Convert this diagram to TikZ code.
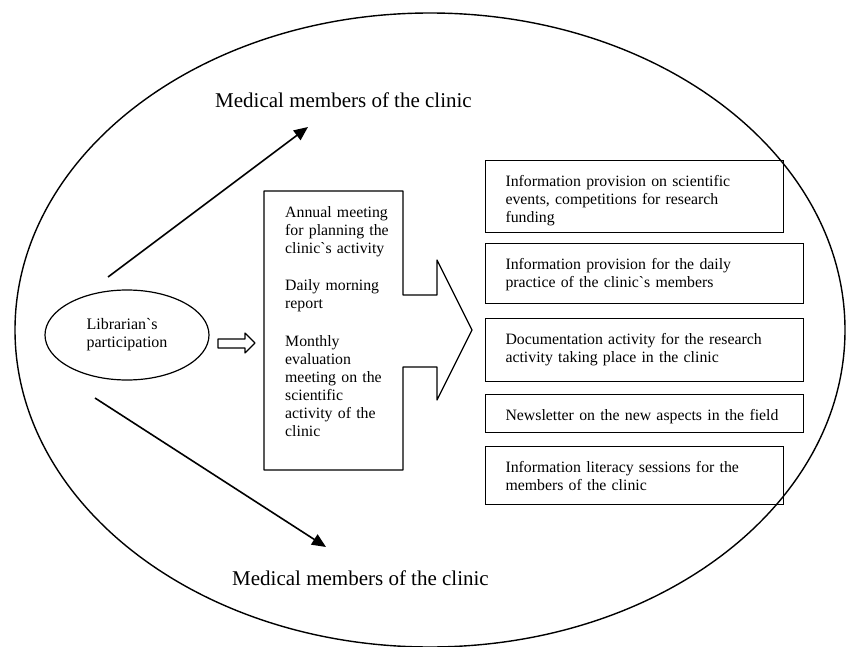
\documentclass[tikz,border=0pt]{standalone}
\usepackage{fontspec}
\setmainfont{Liberation Serif}
\usepackage{tikz}
\usetikzlibrary{shapes.geometric, arrows.meta, positioning}
\usepackage{tkz-euclide}

\tikzset{
  infobox/.style={draw, line width=1.1pt, anchor=north west, align=left,
    inner xsep=20pt, inner ysep=0pt, text height=26pt,
    font=\fontsize{15.8}{18}\selectfont},
  medlabel/.style={anchor=base west, inner sep=0pt, font=\fontsize{21}{24}\selectfont},
  toarrow/.style={line width=1.6pt, -{Triangle[length=14pt,width=12pt]}},
}

\begin{document}
\begin{tikzpicture}[x=1pt, y=-1pt]
\useasboundingbox (0,0) rectangle (848,647);
\node (clinic) [ellipse, draw, line width=1.4pt, minimum width=830pt, minimum height=634pt, inner sep=0pt] at (430,330) {};

\node (lib) [ellipse, draw, line width=1.2pt, minimum width=164pt, minimum height=90pt, align=left,
  font=\fontsize{16}{18}\selectfont] at (127,335) {Librarian\textasciigrave s\\participation};

% block arrow into the meetings box
\tkzDefPoints{218/339/P1, 245/339/P2, 245/333/P3, 255/343/P4, 245/353/P5, 245/348/P6, 218/348/P7}
\tkzDrawPolygon[line width=1.1pt](P1,P2,P3,P4,P5,P6,P7)

% meetings box with its arrow head
\tkzDefPoints{264/191/A, 403/191/B, 403/295/C, 437/295/D, 437/260/E, 472/330/F, 437/400/G, 437/367/H, 403/367/I, 403/470/J, 264/470/K}
\tkzDrawPolygon[line width=1.2pt](A,B,C,D,E,F,G,H,I,J,K)
\node (meet) [anchor=north west, align=left, text width=118pt, inner xsep=21pt, inner ysep=0pt,
  text height=26pt, font=\fontsize{15.8}{18}\selectfont] at (A)
  {Annual meeting\\for planning the\\clinic\textasciigrave s activity\\[19pt]Daily morning\\report\\[20pt]Monthly\\evaluation\\meeting on the\\scientific\\activity of the\\clinic};

\node (evts) [infobox, text width=258pt, text depth=46pt] at (485,160)
  {Information provision on scientific\\events, competitions for research\\funding};
\node (daily) [infobox, text width=278pt, text depth=34pt] at (485,243)
  {Information provision for the daily\\practice of the clinic\textasciigrave s members};
\node (docu) [infobox, text width=278pt, text depth=37pt] at (485,318)
  {Documentation activity for the research\\activity taking place in the clinic};
\node (news) [infobox, text width=278pt, text depth=12pt] at (485,394)
  {Newsletter on the new aspects in the field};
\node (lit) [infobox, text width=258pt, text depth=32pt] at (485,446)
  {Information literacy sessions for the\\members of the clinic};

\node (medtop) [medlabel] at (215,108) {Medical members of the clinic};
\node (medbot) [medlabel] at (232,585) {Medical members of the clinic};

\coordinate (upfrom) at (108,277);
\coordinate (upto) at (308,127);
\coordinate (downfrom) at (95,398);
\coordinate (downto) at (326,547);
\draw[toarrow] (upfrom) -- (upto);
\draw[toarrow] (downfrom) -- (downto);
\end{tikzpicture}
\end{document}
